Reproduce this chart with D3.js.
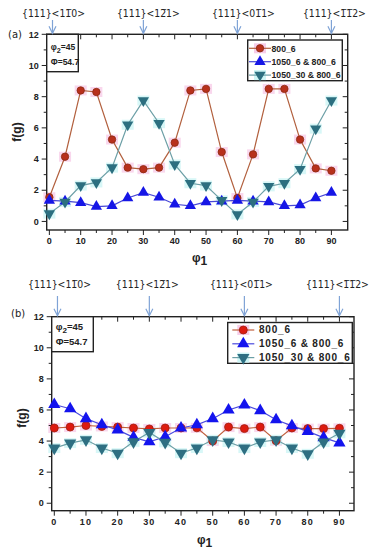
<!DOCTYPE html>
<html><head><meta charset="utf-8">
<script src="https://cdn.jsdelivr.net/npm/d3@7/dist/d3.min.js"></script>
<style>body{margin:0;background:#fff}svg{display:block}</style>
</head><body>
<svg id="c" width="376" height="550"></svg>
<script>
const phi1 = [0,5,10,15,20,25,30,35,40,45,50,55,60,65,70,75,80,85,90];
const seriesNames = ["800_6", "1050_6 & 800_6", "1050_30 & 800_6"];
const a_800_6   = [1.55,4.15,8.4,8.3,5.25,3.45,3.35,3.45,5.05,8.4,8.5,4.45,1.5,4.3,8.5,8.5,5.25,3.4,3.25];
const a_1050_6  = [1.35,1.3,1.2,0.95,1.0,1.5,1.85,1.55,1.1,1.0,1.25,1.3,1.35,1.3,1.25,1.0,1.05,1.5,1.85];
const a_1050_30 = [0.5,1.25,2.3,2.5,3.45,6.2,7.75,6.3,3.65,2.45,2.3,1.35,0.45,1.25,2.25,2.45,3.35,5.95,7.75];
const b_800_6   = [4.84,4.9,5.0,4.94,4.9,4.84,4.78,4.84,4.84,4.85,4.0,4.9,4.8,4.9,4.02,4.84,4.8,4.8,4.82];
const b_1050_6  = [6.35,6.08,5.44,5.05,4.72,4.24,3.95,4.28,4.84,5.05,5.44,6.0,6.32,5.96,5.37,4.98,4.62,4.22,3.88];
const b_1050_30 = [3.55,3.87,4.08,3.55,3.22,3.95,4.55,3.92,3.22,3.55,4.08,3.94,3.55,3.94,4.08,3.55,3.18,3.94,4.5];
const yTicks = [0,2,4,6,8,10,12];
const xTicks = [0,10,20,30,40,50,60,70,80,90];
const arrowAt = [1,30,60,90];
const arrowLabels = ["{111}<11\u03050>", "{111}<12\u03051>", "{111}<01\u03051>", "{111}<1\u03051\u03052>"];

const svg = d3.select("#c");

function panel(o){
  const g = svg.append("g");
  const x = d3.scaleLinear().domain(o.xd).range([o.L, o.R]);
  const y = d3.scaleLinear().domain(o.yd).range([o.B, o.T]);
  const sets = [
    {v:o.d[0], sym:"circle", fill:o.c1f, stroke:o.c1s, line:o.c1l, halo:"#f7cde9"},
    {v:o.d[1], sym:"up", fill:o.c2f, stroke:o.c2f, line:o.c2l, halo:null},
    {v:o.d[2], sym:"down", fill:o.c3f, stroke:o.c3f, line:o.c3l, halo:"#cdf5f5"}
  ];
  sets.forEach(s=>{
    if(!s.halo) return;
    g.append("g").selectAll("rect").data(s.v).join("rect")
      .attr("x",(d,i)=>x(phi1[i])-6).attr("y",d=>y(d)-5).attr("width",12).attr("height",10)
      .attr("fill",s.halo).attr("opacity",0.8);
  });
  g.append("rect").attr("x",o.L).attr("y",o.T).attr("width",o.R-o.L).attr("height",o.B-o.T)
    .attr("fill","none").attr("stroke","#222").attr("stroke-width",1.4);
  const tk = g.append("g").attr("stroke","#222").attr("stroke-width",1);
  const yMinor = d3.range(0,13,1), xMinor = d3.range(0,91,5);
  yMinor.forEach(v=>{
    const len = v%2===0?5:3;
    tk.append("line").attr("x1",o.L).attr("x2",o.L-len).attr("y1",y(v)).attr("y2",y(v));
    tk.append("line").attr("x1",o.R).attr("x2",o.R-len).attr("y1",y(v)).attr("y2",y(v));
  });
  xMinor.forEach(v=>{
    const len = v%10===0?5:3;
    tk.append("line").attr("x1",x(v)).attr("x2",x(v)).attr("y1",o.B).attr("y2",o.B+len);
    tk.append("line").attr("x1",x(v)).attr("x2",x(v)).attr("y1",o.T).attr("y2",o.T+len);
  });
  g.append("g").selectAll("text").data(yTicks).join("text")
    .attr("x",o.L-8).attr("y",d=>y(d)+3.2).attr("text-anchor","end")
    .attr("font-family",o.tf).attr("font-weight","bold").attr("font-size",o.tfs).attr("fill","#222")
    .text(d=>d);
  g.append("g").selectAll("text").data(xTicks).join("text")
    .attr("x",d=>x(d)).attr("y",o.B+14).attr("text-anchor","middle")
    .attr("font-family",o.tf).attr("font-weight","bold").attr("font-size",o.tfs).attr("fill","#222")
    .attr("letter-spacing",o.ls).text(d=>d);
  sets.forEach(s=>{
    const line = d3.line().x((d,i)=>x(phi1[i])).y(d=>y(d));
    g.append("path").datum(s.v).attr("d",line).attr("fill","none").attr("stroke",s.line).attr("stroke-width",1.2);
  });
  sets.forEach(s=>{
    const mg = g.append("g");
    if(s.sym==="circle"){
      mg.selectAll("circle").data(s.v).join("circle")
        .attr("cx",(d,i)=>x(phi1[i])).attr("cy",d=>y(d)).attr("r",o.r)
        .attr("fill",s.fill).attr("stroke",s.stroke).attr("stroke-width",0.8);
    } else {
      const sym = d3.symbol().type(d3.symbolTriangle).size(o.ts);
      mg.selectAll("path").data(s.v).join("path")
        .attr("d",sym).attr("transform",(d,i)=>`translate(${x(phi1[i])},${y(d)})${s.sym==="down"?" rotate(180)":""}`)
        .attr("fill",s.fill);
    }
  });
  g.append("rect").attr("x",o.L).attr("y",o.T).attr("width",o.ib[0]).attr("height",o.ib[1])
    .attr("fill","#fff").attr("stroke","#222").attr("stroke-width",1.4);
  const t1 = g.append("text").attr("x",o.L+4).attr("y",o.T+o.ib[2]).attr("font-family","Liberation Sans, Arial")
    .attr("font-weight","bold").attr("font-size",o.ifs).attr("fill","#222");
  t1.append("tspan").text("\u03c6");
  t1.append("tspan").attr("dy",3).attr("font-size",o.ifs*0.85).text("2");
  t1.append("tspan").attr("dy",-3).text("=45");
  g.append("text").attr("x",o.L+4).attr("y",o.T+o.ib[3]).attr("font-family","Liberation Sans, Arial")
    .attr("font-weight","bold").attr("font-size",o.ifs).attr("fill","#222").text(o.phiText);
  const lg = o.lg;
  g.append("rect").attr("x",lg.x).attr("y",lg.y).attr("width",lg.w).attr("height",lg.h)
    .attr("fill","#fff").attr("stroke","#222").attr("stroke-width",1.4);
  sets.forEach((s,i)=>{
    const ly = lg.y + lg.first + i*lg.step;
    if(s.halo && o.legHalo) g.append("rect").attr("x",lg.mx-6).attr("y",ly-5).attr("width",12).attr("height",10).attr("fill",s.halo);
    g.append("line").attr("x1",lg.mx-11).attr("x2",lg.mx+11).attr("y1",ly).attr("y2",ly).attr("stroke",s.line).attr("stroke-width",1.2);
    if(s.sym==="circle") g.append("circle").attr("cx",lg.mx).attr("cy",ly).attr("r",o.r).attr("fill",s.fill).attr("stroke",s.stroke).attr("stroke-width",0.8);
    else g.append("path").attr("d",d3.symbol().type(d3.symbolTriangle).size(o.ts)).attr("transform",`translate(${lg.mx},${ly})${s.sym==="down"?" rotate(180)":""}`).attr("fill",s.fill);
    g.append("text").attr("x",lg.tx).attr("y",ly+3.3).attr("font-family","Liberation Sans, Arial").attr("font-weight","bold")
      .attr("font-size",lg.fs).attr("letter-spacing",lg.ls).attr("fill","#222").text(seriesNames[i]);
  });
  g.append("text").attr("transform",`translate(${o.yl[0]},${o.yl[1]}) rotate(-90)`).attr("text-anchor","middle")
    .attr("font-family","Liberation Sans, Arial").attr("font-weight","bold").attr("font-size",12).attr("fill","#222").text("f(g)");
  const xl = g.append("text").attr("x",o.xl[0]).attr("y",o.xl[1]).attr("font-family","Liberation Sans, Arial")
    .attr("font-weight","bold").attr("font-size",12).attr("fill","#222");
  xl.append("tspan").text("\u03c6");
  xl.append("tspan").attr("dy",3).text("1");
  g.append("text").attr("x",o.pl[0]).attr("y",o.pl[1]).attr("font-family","DejaVu Sans").attr("font-size",10).attr("fill","#222").text(o.panelLabel);
  arrowAt.forEach((v,i)=>{
    const ax = x(v);
    const ac = "#7fa3d6";
    g.append("line").attr("x1",ax).attr("x2",ax).attr("y1",o.aTop).attr("y2",o.T-1).attr("stroke",ac).attr("stroke-width",1.2);
    g.append("path").attr("d",`M${ax-3.5},${o.T-8}L${ax},${o.T-1}L${ax+3.5},${o.T-8}`).attr("fill","none").attr("stroke",ac).attr("stroke-width",1.2);
    const t = g.append("text").attr("x",ax+o.ldx[i]).attr("y",o.lab).attr("text-anchor","middle")
      .attr("font-family","DejaVu Sans Condensed, DejaVu Sans").attr("font-stretch","condensed")
      .attr("font-size",11).attr("fill","#222").text(arrowLabels[i]);
    const w = t.node().getComputedTextLength();
    if (w > 0) t.attr("font-size", Math.min(12, 11*63/w));
  });
}

panel({
  L:46.7, R:347.7, T:34.3, B:230, xd:[-0.85,95.2], yd:[-0.55,12],
  d:[a_800_6,a_1050_6,a_1050_30],
  c1f:"#b8301c", c1s:"#8a2a12", c1l:"#b2603e",
  c2f:"#1616e6", c2l:"#4848d6",
  c3f:"#2c6f80", c3l:"#6c9fa6",
  tf:"Liberation Sans Narrow, Liberation Sans, Arial", tfs:9, ls:0, r:3.7, ts:55,
  ib:[31.6,37.4,15.5,31], ifs:8.5, phiText:"\u03a6=54.7",
  lg:{x:247.7,y:40,w:94.6,h:40.7,first:8.3,step:13.4,mx:260,tx:271.5,fs:8.7,ls:0},
  legHalo:true,
  yl:[21,132], xl:[192,262], pl:[8,38], panelLabel:"(a)",
  aTop:20, lab:17, ldx:[1,5,6,3]
});
panel({
  L:51.7, R:354, T:316.7, B:510.7, xd:[-0.82,94.6], yd:[-0.48,12],
  d:[b_800_6,b_1050_6,b_1050_30],
  c1f:"#dd1a10", c1s:"#a02010", c1l:"#c0603e",
  c2f:"#1414ee", c2l:"#4a4ade",
  c3f:"#2e6f82", c3l:"#6c9fa6",
  tf:"Liberation Sans, Arial", tfs:9, ls:1.2, r:4, ts:65,
  ib:[41.6,35,13.5,28.5], ifs:9.5, phiText:"\u03a6=54.7",
  lg:{x:227.7,y:322.5,w:124.6,h:40.8,first:7.5,step:13.8,mx:243.3,tx:259,fs:10,ls:0.8},
  legHalo:true,
  yl:[26,418], xl:[197,544], pl:[11,317], panelLabel:"(b)",
  aTop:296, lab:288, ldx:[2,-2,-3,-2]
});
</script>
</body></html>
